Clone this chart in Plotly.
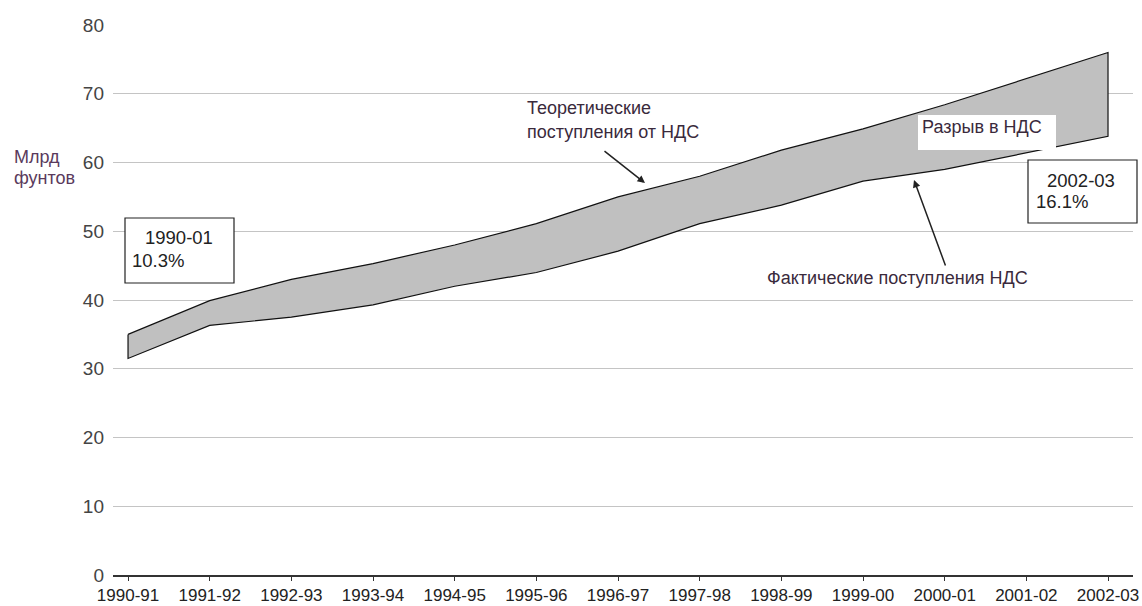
import plotly.graph_objects as go

years = ["1990-91", "1991-92", "1992-93", "1993-94", "1994-95", "1995-96", "1996-97",
         "1997-98", "1998-99", "1999-00", "2000-01", "2001-02", "2002-03"]
theoretical = [35.0, 39.9, 43.0, 45.3, 48.0, 51.1, 55.0, 58.0, 61.8, 64.9, 68.4, 72.2, 76.0]
actual = [31.5, 36.3, 37.5, 39.3, 42.0, 44.0, 47.1, 51.1, 53.8, 57.3, 59.0, 61.4, 63.8]
y_ticks = [0, 10, 20, 30, 40, 50, 60, 70, 80]

FONT = "Liberation Sans, Arial, sans-serif"
TXT = "#3a2a3c"

n = len(years)
idx = list(range(n))
fig = go.Figure()
fig.add_trace(go.Scatter(
    x=idx + idx[::-1] + [idx[0]],
    y=theoretical + actual[::-1] + [theoretical[0]],
    mode="lines", fill="toself", fillcolor="#c0c0c0",
    line=dict(color="#111111", width=1.2), hoverinfo="skip", showlegend=False))

W, H = 1142, 606
# plot area in screenshot pixels: x 113..1133, y 25..575
L, T = 113, 25
R = W - 1133
B = H - 575
pw, ph = W - L - R, H - T - B

def px(x):
    return (x - L) / pw

def py(y):
    return (H - B - y) / ph

fig.update_layout(
    width=W, height=H,
    margin=dict(l=L, r=R, t=T, b=B, autoexpand=False),
    paper_bgcolor="white", plot_bgcolor="white",
    font=dict(family=FONT, size=18, color="#333333"),
    showlegend=False,
    xaxis=dict(
        tickmode="array", tickvals=idx, ticktext=years, automargin=False,
        range=[-0.184, 12.306], showgrid=False, zeroline=False,
        showline=True, linecolor="#333333", linewidth=2,
        ticks="outside", ticklen=4, tickwidth=1, tickcolor="#333333",
        tickfont=dict(size=17, color="#222222")),
    yaxis=dict(
        range=[0, 80], tickvals=y_ticks, showgrid=True, gridcolor="#c4c4c4",
        gridwidth=1, zeroline=False, showline=False, ticks="", automargin=False,
        ticklabelstandoff=8, tickfont=dict(size=19, color="#444444")),
)

shapes = []
shapes.append(dict(type="rect", xref="paper", yref="paper",
                   x0=px(125), x1=px(234), y0=py(283), y1=py(218),
                   line=dict(color="#222222", width=1.2), fillcolor="white", layer="above"))
shapes.append(dict(type="rect", xref="paper", yref="paper",
                   x0=px(1028), x1=px(1137), y0=py(223), y1=py(160),
                   line=dict(color="#222222", width=1.2), fillcolor="white", layer="above"))
shapes.append(dict(type="rect", xref="paper", yref="paper",
                   x0=px(918), x1=px(1056), y0=py(150), y1=py(115),
                   line=dict(width=0), fillcolor="white", layer="above"))
fig.update_layout(shapes=shapes)

def label(text, x, y, size=18, color=TXT):
    fig.add_annotation(text=text, xref="paper", yref="paper", x=px(x), y=py(y),
                       xanchor="left", yanchor="middle", showarrow=False,
                       font=dict(size=size, color=color, family=FONT))

label("Млрд", 12, 157, 18, "#5a3a5c")
label("фунтов", 12, 178, 18, "#5a3a5c")
label("1990-01", 143, 237, 18.5, "#222222")
label("10.3%", 130, 260, 18.5, "#222222")
label("2002-03", 1045, 180, 18.5, "#222222")
label("16.1%", 1034, 202, 18.5, "#222222")
label("Разрыв в НДС", 920, 127, 18)
label("Теоретические", 525, 108, 18)
label("поступления от НДС", 525, 132, 18)
label("Фактические поступления НДС", 765, 278, 18)

fig.add_annotation(xref="paper", yref="paper", x=px(645), y=py(183), ax=-42, ay=-33,
                   text="", showarrow=True, arrowhead=2, arrowsize=1, arrowwidth=1.5,
                   arrowcolor="#222222")
fig.add_annotation(xref="paper", yref="paper", x=px(914), y=py(180), ax=32, ay=87,
                   text="", showarrow=True, arrowhead=2, arrowsize=1, arrowwidth=1.5,
                   arrowcolor="#222222")

fig.write_html("out.html", config={"displayModeBar": False},
               post_script="document.body.style.margin='0';")
